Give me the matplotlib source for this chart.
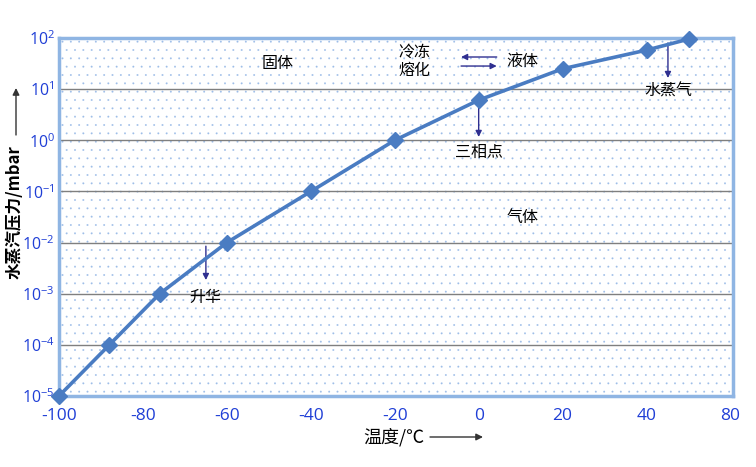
import numpy as np
import matplotlib
matplotlib.use("Agg")
from matplotlib import pyplot as plt
from matplotlib.patches import Rectangle
from matplotlib.ticker import FixedLocator, FixedFormatter

plt.rcParams['font.family'] = ['Noto Sans CJK SC', 'DejaVu Sans']
plt.rcParams['hatch.linewidth'] = 0.15

# --- data ---
temps = [-100, -88, -76, -60, -40, -20, 0, 20, 40, 50]
pressure = [1e-5, 1e-4, 1e-3, 1e-2, 1e-1, 1.0, 6.1, 25, 58, 95]

x_ticks = [-100, -80, -60, -40, -20, 0, 20, 40, 60]
x_tick_labels = ['-100', '-80', '-60', '-40', '-20', '0', '20', '40', '80']
y_exponents = [-5, -4, -3, -2, -1, 0, 1, 2]

LINE_BLUE = '#4a7cc2'
TICK_BLUE = '#1f3ed6'
ARROW_NAVY = '#2f2f90'

fig = plt.figure(figsize=(7.56, 4.67), dpi=100)
ax = fig.add_axes([59 / 756, 1 - 396 / 467, 674 / 756, 358 / 467])

# dotted background of the plot area
ax.add_patch(Rectangle((0, 0), 1, 1, transform=ax.transAxes, facecolor='white',
                       edgecolor='#9dbde8', linewidth=0, hatch='..', zorder=0))

ax.set_yscale('log')
ax.set_xlim(-100, 60.6)
ax.set_ylim(1e-5, 1e2)

ax.yaxis.set_major_locator(FixedLocator([10.0 ** e for e in y_exponents]))
ax.yaxis.set_major_formatter(FixedFormatter(
    [r'$\mathregular{10^{%d}}$' % e for e in y_exponents]))
ax.yaxis.set_minor_locator(FixedLocator([]))
ax.xaxis.set_major_locator(FixedLocator(x_ticks))
ax.xaxis.set_major_formatter(FixedFormatter(x_tick_labels))

ax.tick_params(axis='both', length=0, colors=TICK_BLUE)
ax.tick_params(axis='x', pad=9, labelsize=12.5)
ax.tick_params(axis='y', pad=3, labelsize=11.5)
for lbl in ax.get_xticklabels() + ax.get_yticklabels():
    lbl.set_family(['Open Sans', 'DejaVu Sans'])

ax.grid(axis='y', which='major', color='#7f7f7f', linewidth=1.0, zorder=1)
ax.set_axisbelow(True)
for sp in ax.spines.values():
    sp.set_color('#8fb5e3')
    sp.set_linewidth(2.5)

ax.plot(temps, pressure, color=LINE_BLUE, linewidth=2.6, marker='D',
        markersize=8, markerfacecolor=LINE_BLUE, markeredgecolor=LINE_BLUE,
        clip_on=False, zorder=5)

# --- phase annotations ---
txt = dict(fontsize=11.5, color='black', ha='center', va='center')
ax.text(-48, 32, '固体', **txt)
ax.text(-15.3, 35, '冷冻\n熔化', linespacing=1.05, **txt)
ax.text(10.5, 35.5, '液体', **txt)
ax.text(45.1, 9.0, '水蒸气', **txt)
ax.text(0, 0.58, '三相点', **txt)
ax.text(10.5, 0.031, '气体', **txt)
ax.text(-65, 8.3e-4, '升华', **txt)

arr = dict(arrowstyle='-|>', color=ARROW_NAVY, lw=1.0, mutation_scale=9,
           shrinkA=0, shrinkB=0)
ax.annotate('', xy=(-4.2, 42.5), xytext=(4.3, 42.5), arrowprops=arr)
ax.annotate('', xy=(4.3, 28.3), xytext=(-4.2, 28.3), arrowprops=arr)
ax.annotate('', xy=(45.1, 16.5), xytext=(45.1, 80), arrowprops=arr)
ax.annotate('', xy=(0, 1.16), xytext=(0, 6.1), arrowprops=arr)
ax.annotate('', xy=(-65, 1.85e-3), xytext=(-65, 8.5e-3), arrowprops=arr)

# --- axis titles with arrows ---
fig.text(15 / 756, 1 - 212 / 467, '水蒸汽压力/mbar', rotation=90, fontsize=12,
         fontweight='bold', ha='center', va='center')
fig_arr = dict(arrowstyle='-|>', color='#333333', lw=1.0, mutation_scale=10,
               shrinkA=0, shrinkB=0)
ax.annotate('', xy=(16, 467 - 88), xytext=(16, 467 - 135),
            xycoords='figure pixels', textcoords='figure pixels',
            arrowprops=fig_arr)

fig.text(394 / 756, 1 - 437 / 467, '温度/℃', fontsize=13,
         ha='center', va='center')
ax.annotate('', xy=(483, 467 - 437), xytext=(430, 467 - 437),
            xycoords='figure pixels', textcoords='figure pixels',
            arrowprops=fig_arr)

fig.savefig('out.png', dpi=100)
